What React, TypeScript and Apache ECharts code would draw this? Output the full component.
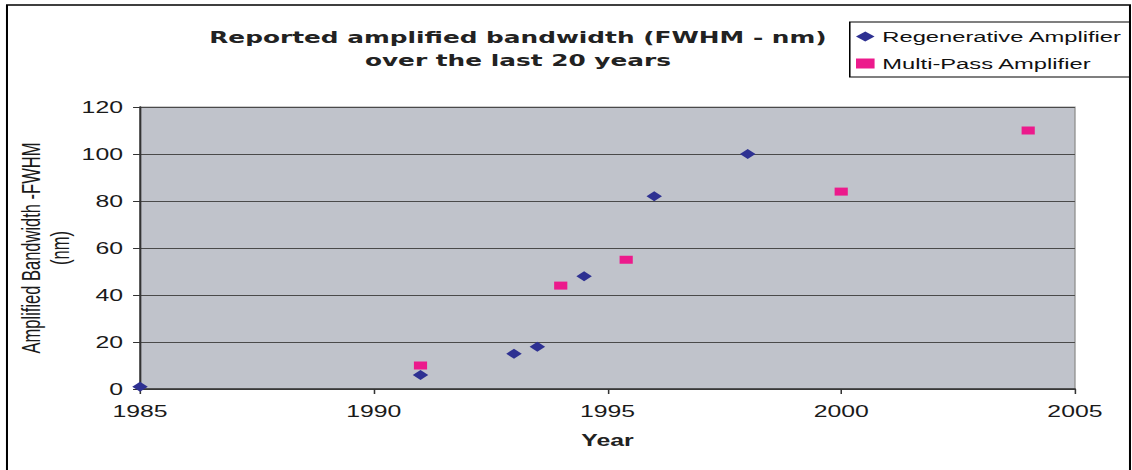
import React, { useEffect, useRef } from "react";
import * as echarts from "echarts";

// Data
const regenerativeYears = [1985, 1991, 1993, 1993.5, 1994.5, 1996, 1998];
const regenerativeValues = [1, 6, 15, 18, 48, 82, 100];
const multiPassYears = [1991, 1994, 1995.4, 2000, 2004];
const multiPassValues = [10, 44, 55, 84, 110];
const seriesNames = ["Regenerative Amplifier", "Multi-Pass Amplifier"];
const titleLines = ["Reported amplified bandwidth (FWHM - nm)", "over the last 20 years"];
const xAxisName = "Year";
const yAxisNameLines = ["Amplified Bandwidth -FWHM", "(nm)"];

// The reference picture is horizontally stretched; render narrower and stretch.
const INNER_W = 730;
const H = 470;
const SCALE_X = 1132 / INNER_W;

export default function App() {
  const ref = useRef<HTMLDivElement>(null);

  useEffect(() => {
    if (!ref.current) return;
    const chart = echarts.init(ref.current, undefined, { renderer: "svg" });
    const font = "'Liberation Sans', Arial, sans-serif";
    chart.setOption({
      animation: false,
      backgroundColor: "#ffffff",
      title: {
        text: titleLines.join("\n"),
        left: 334,
        top: 26,
        padding: 0,
        textAlign: "center",
        textStyle: {
          fontFamily: "'DejaVu Sans', sans-serif",
          fontWeight: "bold",
          fontSize: 16,
          lineHeight: 23,
          color: "#222222",
        },
      },
      legend: {
        orient: "vertical",
        left: 548,
        top: 22,
        padding: [7, 5, 6, 4],
        itemGap: 12,
        itemWidth: 12,
        itemHeight: 10,
        borderColor: "#000000",
        borderWidth: 1,
        textStyle: { fontFamily: font, fontSize: 15.3, color: "#111111" },
        data: [
          { name: seriesNames[0], icon: "diamond" },
          { name: seriesNames[1], icon: "rect" },
        ],
      },
      grid: {
        left: 90.3,
        right: 36.8,
        top: 107,
        bottom: 81,
        outerBoundsMode: "none",
        containLabel: false,
        show: true,
        backgroundColor: "#c0c3cb",
        borderColor: "#9a9a9a",
        borderWidth: 1,
      },
      xAxis: {
        type: "value",
        min: 1985,
        max: 2005,
        interval: 5,
        name: xAxisName,
        nameLocation: "middle",
        nameGap: 43,
        nameMoveOverlap: false,
        nameTextStyle: { fontFamily: font, fontSize: 16, fontWeight: "bold", color: "#222222" },
        axisLine: { show: true, onZero: false, lineStyle: { color: "#333333", width: 1.5 } },
        axisTick: { show: true, inside: false, length: 5, lineStyle: { color: "#333333" } },
        axisLabel: {
          margin: 14,
          fontFamily: font,
          fontSize: 16,
          color: "#1a1a1a",
          formatter: (v: number) => String(v),
        },
        splitLine: { show: false },
      },
      yAxis: {
        type: "value",
        min: 0,
        max: 120,
        interval: 20,
        name: yAxisNameLines.join("\n"),
        nameLocation: "middle",
        nameRotate: 90,
        nameGap: 41.5,
        nameMoveOverlap: false,
        nameTextStyle: { fontFamily: font, fontSize: 16.5, lineHeight: 19, color: "#1a1a1a" },
        axisLine: { show: true, lineStyle: { color: "#333333", width: 1.3 } },
        axisTick: { show: true, inside: false, length: 4.5, lineStyle: { color: "#333333" } },
        axisLabel: { margin: 11, fontFamily: font, fontSize: 16, color: "#1a1a1a" },
        splitLine: { show: true, lineStyle: { color: "#4a4a4a", width: 1 } },
      },
      graphic: [
        {
          type: "rect",
          shape: { x: 4.5, y: 5, width: 724.2, height: 480 },
          style: { fill: "none", stroke: "#000000", lineWidth: 1.3 },
          silent: true,
          z: -1,
        },
      ],
      series: [
        {
          name: seriesNames[0],
          type: "scatter",
          symbol: "diamond",
          symbolSize: [10, 10],
          itemStyle: { color: "#2e3192", opacity: 1 },
          data: regenerativeYears.map((y, i) => [y, regenerativeValues[i]]),
          z: 3,
        },
        {
          name: seriesNames[1],
          type: "scatter",
          symbol: "rect",
          symbolSize: [8.5, 8],
          itemStyle: { color: "#ec1a8c", opacity: 1 },
          data: multiPassYears.map((y, i) => [y, multiPassValues[i]]),
          z: 3,
        },
      ],
    });
    return () => chart.dispose();
  }, []);

  return (
    <div
      ref={ref}
      style={{
        position: "fixed",
        left: 0,
        top: 0,
        width: INNER_W,
        height: H,
        transform: `scaleX(${SCALE_X})`,
        transformOrigin: "0 0",
        background: "#ffffff",
      }}
    />
  );
}
